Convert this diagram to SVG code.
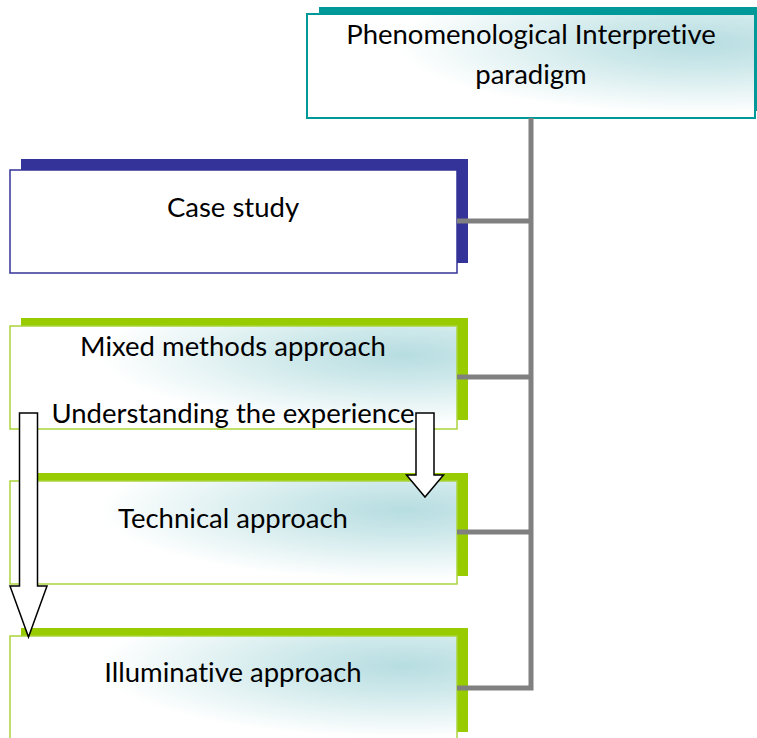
<svg xmlns="http://www.w3.org/2000/svg" width="757" height="738" viewBox="0 0 757 738">
<defs>
<radialGradient id="g" cx="0.88" cy="0.28" r="0.68">
<stop offset="0" stop-color="#b7dde1"/>
<stop offset="0.35" stop-color="#cde8ea"/>
<stop offset="1" stop-color="#ffffff"/>
</radialGradient>
</defs>
<style>
text{font-family:Lato,"Liberation Sans",sans-serif;font-size:27.5px;fill:#000;text-anchor:middle;font-variant-ligatures:none}
.teal{fill:#009999}
.navy{fill:#333399}
.green{fill:#99cc00}
.fteal{fill:url(#g);stroke:#009999;stroke-width:2}
.fnavy{fill:#fff;stroke:#333399;stroke-width:1.5}
.fgreen{fill:url(#g);stroke:#aad43c;stroke-width:1.5}
.con{fill:none;stroke:#808080;stroke-width:5}
.arr{fill:#fff;stroke:#000;stroke-width:1.5}
</style>
<g id="paradigm">
<rect class="teal" x="319" y="7" width="448" height="104"/>
<rect class="fteal" x="307" y="14" width="448" height="104"/>
<text x="531" y="44">Phenomenological Interpretive</text>
<text x="531" y="84">paradigm</text>
</g>
<g id="case-study">
<rect class="navy" x="21" y="159" width="447" height="104"/>
<rect class="fnavy" x="10" y="170" width="447" height="103"/>
<text x="233" y="217">Case study</text>
</g>
<g id="mixed">
<rect class="green" x="21" y="318" width="447" height="102"/>
<rect class="fgreen" x="10" y="326" width="447" height="103"/>
<text x="233" y="356">Mixed methods approach</text>
<text x="233" y="423">Understanding the experience</text>
</g>
<g id="technical">
<rect class="green" x="21" y="473" width="447" height="103"/>
<rect class="fgreen" x="10" y="481" width="447" height="103"/>
<text x="233" y="528">Technical approach</text>
</g>
<g id="illuminative">
<rect class="green" x="21" y="628" width="447" height="104"/>
<rect class="fgreen" x="10" y="636" width="447" height="106"/>
<text x="233" y="682">Illuminative approach</text>
</g>
<g id="connectors">
<path class="con" d="M457,688 H531 V118"/>
<path class="con" d="M457,221 H531"/>
<path class="con" d="M457,377 H531"/>
<path class="con" d="M457,532 H531"/>
<path class="arr" d="M19.5,413 H37.5 V586 H47 L28.5,637 L10,586 H19.5 Z"/>
<path class="arr" d="M416,413 H434 V475 H443.5 L425,497 L406.5,475 H416 Z"/>
</g>
</svg>
